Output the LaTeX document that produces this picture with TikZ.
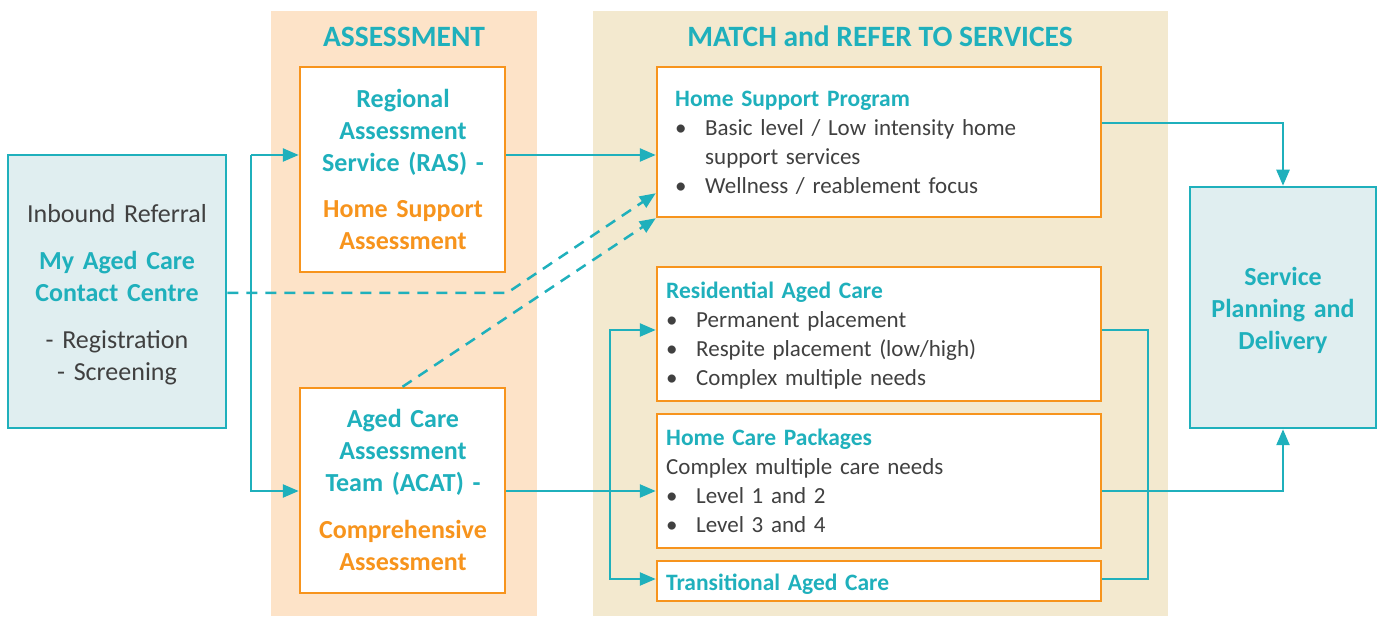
\documentclass[tikz,border=0pt]{standalone}
\usepackage{fontspec}
\setmainfont{Carlito}
\usetikzlibrary{arrows.meta,calc}
\definecolor{cteal}{RGB}{31,176,188}
\definecolor{corange}{RGB}{247,148,29}
\definecolor{cgray}{RGB}{64,64,64}
\definecolor{cpeach}{RGB}{253,227,200}
\definecolor{cbeige}{RGB}{243,233,207}
\definecolor{cblue}{RGB}{224,238,240}
\tikzset{
  obox/.style={draw=corange,line width=2.5pt,fill=white,rectangle,inner sep=0pt},
  tbox/.style={draw=cteal,line width=2.5pt,fill=cblue,rectangle,inner sep=0pt},
  conn/.style={draw=cteal,line width=2.5pt},
  arr/.style={conn,-{Triangle[length=16pt,width=13pt]}},
  darr/.style={arr,dash pattern=on 11pt off 8pt},
  ctext/.style={inner sep=0pt,anchor=base,text width=220pt,align=center,font=\fontsize{26}{32}\selectfont,text=cgray},
  ltext/.style={inner sep=0pt,anchor=base west,text width=430pt,align=left,font=\fontsize{23}{29}\selectfont,text=cgray},
  ttl/.style={inner sep=0pt,anchor=base,font=\fontsize{29.5}{34}\selectfont\bfseries,text=cteal},
}
\newcommand{\bul}{\makebox[30pt][l]{\textbullet}}
\newcommand{\hd}[1]{{\fontsize{23.5}{29}\selectfont\bfseries\color{cteal}#1}}
\begin{document}
\begin{tikzpicture}[x=1pt,y=-1pt]
\useasboundingbox (0,0) rectangle (1377,617);
% panels
\fill[cpeach] (271,11) rectangle (537,616);
\fill[cbeige] (593,11) rectangle (1168,616);
\node[ttl] (t1) at (404,47) {ASSESSMENT};
\node[ttl] (t2) at (880,47) {MATCH and REFER TO SERVICES};
% boxes
\node[tbox,minimum width=218pt,minimum height=273pt] (MAC) at (117,291.5) {};
\node[obox,minimum width=205pt,minimum height=205pt] (RAS) at (402.5,169.5) {};
\node[obox,minimum width=205pt,minimum height=205pt] (ACAT) at (402.5,490.5) {};
\node[obox,minimum width=444pt,minimum height=150pt] (HSP) at (879,142) {};
\node[obox,minimum width=444pt,minimum height=134pt] (RES) at (879,334) {};
\node[obox,minimum width=444pt,minimum height=134pt] (HCP) at (879,481) {};
\node[obox,minimum width=444pt,minimum height=40pt] (TAC) at (879,581) {};
\node[tbox,minimum width=186pt,minimum height=241pt] (SPD) at (1283,307.5) {};
% texts
\node[ctext] (MACt) at (117,223) {Inbound Referral\\[15pt]
  {\bfseries\color{cteal}My Aged Care\\Contact Centre}\\[15pt]
  - Registration\\- Screening};
\node[ctext] (RASt) at (403,108) {\bfseries\color{cteal}Regional\\Assessment\\Service (RAS) -\\[14pt]
  \color{corange}Home Support\\Assessment};
\node[ctext] (ACATt) at (403,428) {\bfseries\color{cteal}Aged Care\\Assessment\\Team (ACAT) -\\[15pt]
  \color{corange}Comprehensive\\Assessment};
\node[ctext] (SPDt) at (1283,286) {\bfseries\color{cteal}Service\\Planning and\\Delivery};
\node[ltext] (HSPt) at (675,107) {\hd{Home Support Program}\\
  \bul Basic level / Low intensity home\\
  \hspace*{30pt}support services\\
  \bul Wellness / reablement focus};
\node[ltext] (RESt) at (666,299) {\hd{Residential Aged Care}\\
  \bul Permanent placement\\
  \bul Respite placement (low/high)\\
  \bul Complex multiple needs};
\node[ltext] (HCPt) at (666,446) {\hd{Home Care Packages}\\
  Complex multiple care needs\\
  \bul Level 1 and 2\\
  \bul Level 3 and 4};
\node[ltext] (TACt) at (666,590) {\hd{Transitional Aged Care}};
% connectors
\coordinate (j1) at (251,155);
\coordinate (j2) at (251,491);
\draw[arr] (j1) -- (RAS.west |- j1);
\draw[arr] (j1) -- (j2) -- (ACAT.west |- j2);
\draw[arr] (RAS.east |- j1) -- (HSP.west |- j1);
\draw[arr] (ACAT.east |- j2) -- (HCP.west |- j2);
\coordinate (d1) at (507,293);
\coordinate (d2) at ($(HSP.south west)+(0,-25)$);
\draw[darr] (MAC.east |- d1) -- (d1) -- (d2);
\draw[darr] (ACAT.north) -- (HSP.south west);
\coordinate (k1) at (610,330);
\coordinate (k2) at (610,579);
\draw[arr] (k2) -- (k1) -- (RES.west |- k1);
\draw[arr] (k1) -- (k2) -- (TAC.west |- k2);
\coordinate (h1) at (1283,123);
\draw[arr] (HSP.east |- h1) -| (SPD.north);
\coordinate (r1) at (1148,330);
\draw[conn] (RES.east |- r1) -- (r1) -- (r1 |- k2) -- (TAC.east |- k2);
\draw[arr] (HCP.east |- j2) -| (SPD.south);
\end{tikzpicture}
\end{document}
